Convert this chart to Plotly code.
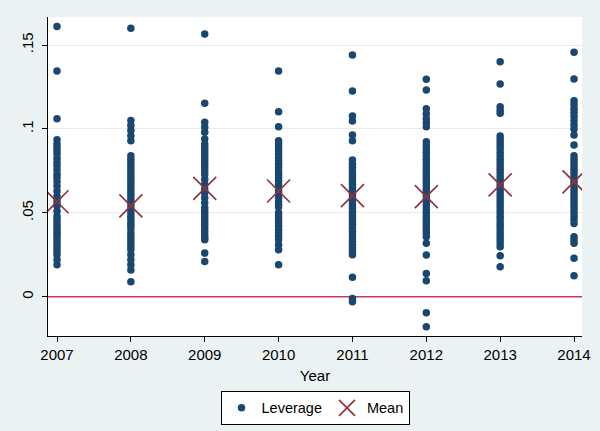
import plotly.graph_objects as go

years = [2007, 2008, 2009, 2010, 2011, 2012, 2013, 2014]

lev_2007 = [0.161, 0.1345, 0.106, 0.0935, 0.091, 0.089, 0.087, 0.085, 0.0825, 0.080, 0.078, 0.0755,
            0.073, 0.071, 0.0685, 0.066, 0.063, 0.060, 0.058, 0.056, 0.054, 0.051, 0.048, 0.046, 0.044,
            0.042, 0.040, 0.0385, 0.037, 0.035, 0.033, 0.031, 0.029, 0.027, 0.025, 0.022, 0.019]
lev_2008 = [0.160, 0.105, 0.102, 0.099, 0.096, 0.093, 0.084, 0.082, 0.080, 0.078, 0.076, 0.074, 0.072,
            0.070, 0.068, 0.066, 0.064, 0.062, 0.060, 0.058, 0.056, 0.054, 0.052, 0.050, 0.048, 0.046,
            0.044, 0.0425, 0.0405, 0.038, 0.036, 0.034, 0.032, 0.030, 0.028, 0.025, 0.022, 0.019, 0.016, 0.009]
lev_2009 = [0.1565, 0.1153, 0.104, 0.101, 0.098, 0.094, 0.091, 0.089, 0.087, 0.085, 0.083, 0.081, 0.079,
            0.077, 0.075, 0.073, 0.070, 0.067, 0.064, 0.062, 0.059, 0.056, 0.053, 0.051, 0.049, 0.047,
            0.045, 0.043, 0.041, 0.039, 0.037, 0.035, 0.034, 0.026, 0.021]
lev_2010 = [0.1345, 0.1103, 0.1013, 0.093, 0.091, 0.089, 0.087, 0.085, 0.083, 0.081, 0.079, 0.077, 0.075,
            0.073, 0.071, 0.069, 0.067, 0.065, 0.063, 0.061, 0.059, 0.057, 0.055, 0.0535, 0.050, 0.048,
            0.046, 0.044, 0.042, 0.040, 0.038, 0.036, 0.034, 0.031, 0.028, 0.019]
lev_2011 = [0.144, 0.1226, 0.1077, 0.1047, 0.0964, 0.093, 0.0815, 0.079, 0.077, 0.075, 0.073, 0.071,
            0.069, 0.067, 0.065, 0.063, 0.061, 0.059, 0.057, 0.055, 0.053, 0.051, 0.049, 0.047, 0.045,
            0.043, 0.041, 0.039, 0.037, 0.035, 0.033, 0.031, 0.029, 0.027, 0.025, 0.0116, -0.001, -0.003]
lev_2012 = [0.1296, 0.1232, 0.112, 0.109, 0.106, 0.1035, 0.1013, 0.0924, 0.090, 0.088, 0.086, 0.084,
            0.082, 0.080, 0.078, 0.076, 0.074, 0.072, 0.070, 0.068, 0.066, 0.064, 0.062, 0.060, 0.058,
            0.056, 0.054, 0.052, 0.050, 0.048, 0.046, 0.044, 0.042, 0.040, 0.038, 0.0358, 0.0318, 0.0248,
            0.0139, 0.0095, -0.0095, -0.0179]
lev_2013 = [0.140, 0.1268, 0.1132, 0.111, 0.1093, 0.0958, 0.094, 0.092, 0.090, 0.088, 0.086, 0.084,
            0.082, 0.080, 0.078, 0.076, 0.074, 0.072, 0.070, 0.068, 0.066, 0.064, 0.062, 0.060, 0.058,
            0.056, 0.054, 0.052, 0.050, 0.048, 0.046, 0.044, 0.042, 0.040, 0.038, 0.036, 0.034, 0.032,
            0.0298, 0.0244, 0.0179]
lev_2014 = [0.1457, 0.1297, 0.1168, 0.1145, 0.112, 0.110, 0.1075, 0.105, 0.1025, 0.1000, 0.0964, 0.0904,
            0.084, 0.082, 0.080, 0.078, 0.076, 0.074, 0.072, 0.070, 0.068, 0.066, 0.064, 0.062, 0.060,
            0.058, 0.056, 0.054, 0.052, 0.050, 0.048, 0.046, 0.0437, 0.0358, 0.0338, 0.0318, 0.0229, 0.0125]

leverage = [lev_2007, lev_2008, lev_2009, lev_2010, lev_2011, lev_2012, lev_2013, lev_2014]
means = [0.0566, 0.0542, 0.0646, 0.0630, 0.0602, 0.0596, 0.0666, 0.0685]

y_ticks = [0, 0.05, 0.1, 0.15]
y_tick_labels = ["0", ".05", ".1", ".15"]
ref_line = 0
x_range = [2006.878, 2014.108]

xs, ys = [], []
for yr, vals in zip(years, leverage):
    xs += [yr] * len(vals)
    ys += vals

FONT = "Liberation Sans, Arial, sans-serif"
fig = go.Figure()
fig.add_trace(go.Scatter(x=x_range, y=[ref_line, ref_line], mode="lines", showlegend=False,
                         hoverinfo="skip", line=dict(color="#C23A5E", width=1.6)))
fig.add_trace(go.Scatter(x=xs, y=ys, mode="markers", name="Leverage",
                         marker=dict(color="#1A476F", size=7.5, line=dict(width=0))))
fig.add_trace(go.Scatter(x=years, y=means, mode="markers", name="Mean",
                         marker=dict(symbol="x-thin-open", color="#90353B", size=23,
                                     line=dict(width=1.7, color="#90353B"))))

fig.update_layout(
    width=600, height=431,
    margin=dict(l=48, r=18, t=17, b=95, autoexpand=False),
    paper_bgcolor="#EAF2F3", plot_bgcolor="white",
    font=dict(family=FONT, size=15, color="black"),
    showlegend=True,
    legend=dict(orientation="h", x=0.5, xanchor="center", xref="paper",
                y=0.093, yanchor="top", yref="container",
                bgcolor="white", bordercolor="black", borderwidth=1,
                font=dict(size=14.5), itemwidth=30, tracegroupgap=0),
    xaxis=dict(range=x_range, tickmode="array", tickvals=years, automargin=False,
               ticktext=[str(y) for y in years], showgrid=False, zeroline=False,
               showline=True, linecolor="black", linewidth=1, ticks="outside",
               ticklen=5, tickcolor="black", ticklabelstandoff=0,
               title=dict(text="Year", standoff=8, font=dict(size=15))),
    yaxis=dict(range=[-0.0234, 0.1667], tickmode="array", tickvals=y_ticks, automargin=False,
               ticktext=y_tick_labels, tickangle=-90, showgrid=True, gridcolor="#EAEAEA",
               gridwidth=1, zeroline=False, showline=True, linecolor="black", linewidth=1,
               ticks="outside", ticklen=5, tickcolor="black", ticklabelstandoff=3),
)

fig.write_html("out.html")
